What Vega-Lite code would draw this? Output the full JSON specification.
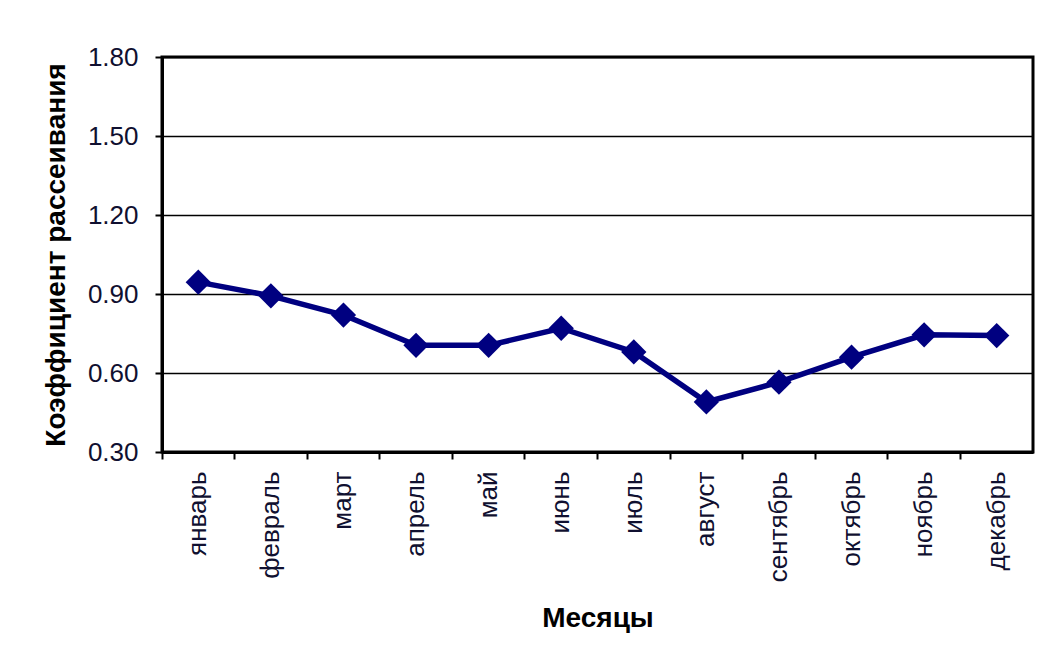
{
  "$schema": "https://vega.github.io/schema/vega-lite/v6.json",
  "autosize": "none",
  "width": 871,
  "height": 395,
  "padding": {"left": 162, "top": 57, "right": 11, "bottom": 210},
  "background": "white",
  "config": {
    "font": "Liberation Sans",
    "view": {"stroke": "black", "strokeWidth": 3},
    "axis": {"labelColor": "#101030", "titleColor": "black", "domainColor": "black", "tickColor": "black"}
  },
  "data": {
    "values": [
      {"month": "январь", "k": 0.945},
      {"month": "февраль", "k": 0.893},
      {"month": "март", "k": 0.82},
      {"month": "апрель", "k": 0.705},
      {"month": "май", "k": 0.705},
      {"month": "июнь", "k": 0.77},
      {"month": "июль", "k": 0.68},
      {"month": "август", "k": 0.49},
      {"month": "сентябрь", "k": 0.565},
      {"month": "октябрь", "k": 0.66},
      {"month": "ноябрь", "k": 0.745},
      {"month": "декабрь", "k": 0.742}
    ]
  },
  "encoding": {
    "x": {
      "field": "month",
      "type": "ordinal",
      "sort": null,
      "bandPosition": 0.5,
      "scale": {"type": "band", "paddingInner": 0, "paddingOuter": 0},
      "axis": {
        "title": "Месяцы",
        "titleFontSize": 28,
        "titleFontWeight": "bold",
        "titlePadding": 23,
        "labelAngle": -90,
        "labelFontSize": 26,
        "labelPadding": 12,
        "labelBaseline": "middle",
        "labelAlign": "right",
        "bandPosition": 0,
        "tickSize": 7,
        "tickWidth": 2,
        "domainWidth": 3,
        "grid": false
      }
    },
    "y": {
      "field": "k",
      "type": "quantitative",
      "scale": {"domain": [0.3, 1.8], "nice": false, "zero": false},
      "axis": {
        "title": "Коэффициент рассеивания",
        "titleFontSize": 28,
        "titleFontWeight": "bold",
        "titlePadding": 17,
        "values": [0.3, 0.6, 0.9, 1.2, 1.5, 1.8],
        "format": ".2f",
        "labelFontSize": 26,
        "labelPadding": 17,
        "tickSize": 7,
        "tickWidth": 2,
        "domainWidth": 3,
        "grid": true,
        "gridColor": "black",
        "gridWidth": 1.5,
        "gridOpacity": 1
      }
    }
  },
  "layer": [
    {"mark": {"type": "line", "color": "#000080", "strokeWidth": 5.5}},
    {"mark": {"type": "point", "shape": "diamond", "filled": true, "color": "#000080", "size": 640, "opacity": 1}}
  ]
}
